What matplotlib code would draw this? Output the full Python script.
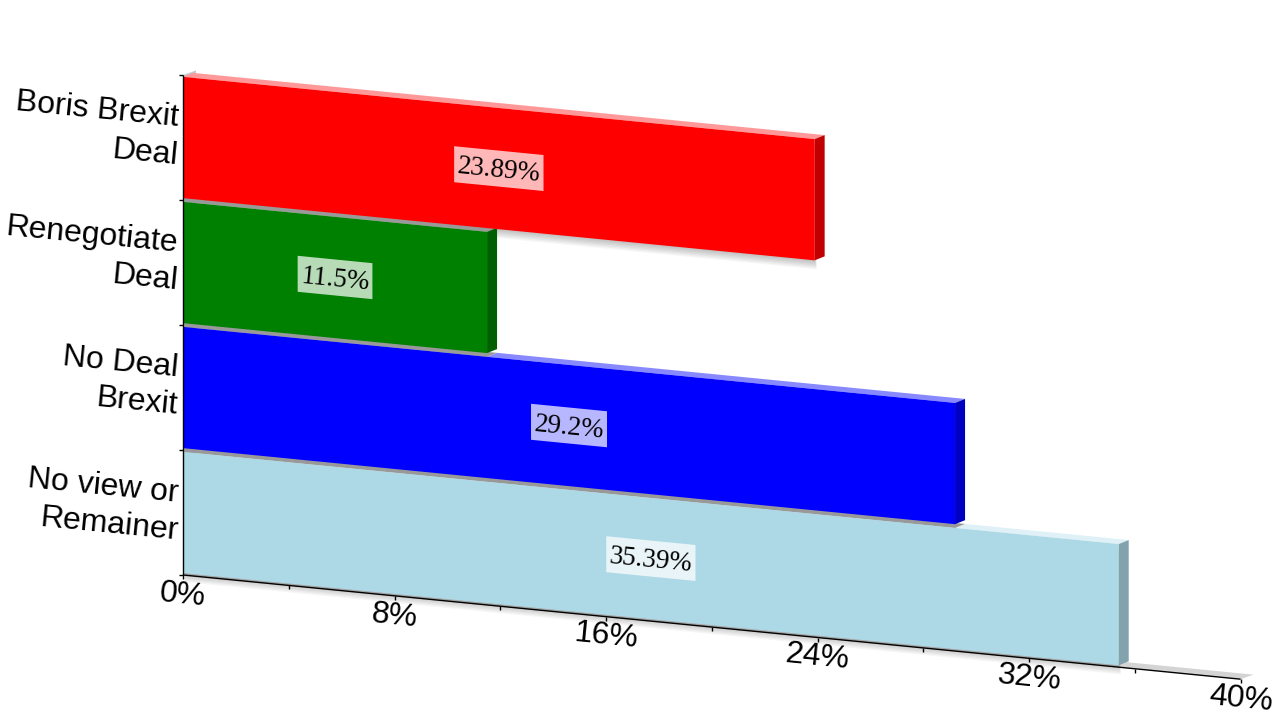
import matplotlib
matplotlib.use("Agg")
import matplotlib.pyplot as plt
import numpy as np
from matplotlib.transforms import Affine2D

categories = ["Boris Brexit\nDeal", "Renegotiate\nDeal", "No Deal\nBrexit", "No view or\nRemainer"]
values = [23.89, 11.5, 29.2, 35.39]
bar_colors = ["#ff0000", "#008000", "#0000ff", "#add8e6"]
side_colors = ["#c00000", "#006000", "#0000c0", "#82a2ad"]
top_colors = ["#ff9999", "#999999", "#8888ff", "#dff0f6"]
x_ticks = [0, 8, 16, 24, 32, 40]
x_minor = [4, 12, 20, 28, 36]

# chart sits on a skewed plane, pixels per unit
X0, Y0 = 183, 575
SX, SY = 26.44, 125
SLOPE = 0.0985
DX, DY = 10, -4
FLOOR_DX, FLOOR_DY = 13, -4.5
ANGLE = -np.degrees(np.arctan(SLOPE))
BAR_H = 0.97

fig = plt.figure(figsize=(12.8, 7.2), dpi=100)
ax = fig.add_axes([0, 0, 1, 1])
ax.set_xlim(0, 1280)
ax.set_ylim(720, 0)
ax.axis("off")

skew = Affine2D.from_values(SX, SX * SLOPE, 0, -SY, X0, Y0)


def proj(v, b, dx=0, dy=0):
    x, y = skew.transform((v, b))
    return x + dx, y + dy


def face(corners, color, **kw):
    pts = np.array([proj(*c) for c in corners])
    ax.fill(pts[:, 0], pts[:, 1], color=color, lw=0, **kw)


positions = [len(values) - i - 0.5 for i in range(len(values))]

# floor and wall behind the bars
face([(0, 0), (40, 0), (40, 0, FLOOR_DX, FLOOR_DY), (0, 0, FLOOR_DX, FLOOR_DY)], "#d4d4d4", zorder=1)
face([(0, 0), (0, 4), (0, 4, FLOOR_DX, FLOOR_DY), (0, 0, FLOOR_DX, FLOOR_DY)], "#c4c8cc", zorder=1)

# soft shadows
for pos, v in zip(positions, values):
    for i in range(1, 8):
        off = (i * 0.3, i * 1.3)
        face([(0, pos - BAR_H / 2, *off), (v, pos - BAR_H / 2, *off),
              (v, pos + BAR_H / 2, *off), (0, pos + BAR_H / 2, *off)], "black", alpha=0.035, zorder=2)

# bottom bar first so the strips tuck under the bar above
for i in reversed(range(len(values))):
    pos, v = positions[i], values[i]
    lo, hi = pos - BAR_H / 2, pos + BAR_H / 2
    z = 3 + (len(values) - i)
    ax.barh(pos, v, height=BAR_H, color=bar_colors[i], lw=0, transform=skew + ax.transData, zorder=z + 0.2)
    face([(v, lo), (v, hi), (v, hi, DX, DY), (v, lo, DX, DY)], side_colors[i], zorder=z + 0.1)
    upper = values[i - 1] if i > 0 else 0
    split = min(upper, v)
    face([(split, hi), (v, hi), (v, hi, DX, DY), (split, hi, DX, DY)], top_colors[i], zorder=z)
    if split > 0:
        face([(0, hi), (split, hi), (split, hi, DX, DY), (0, hi, DX, DY)], "#999999", zorder=z)

ax.set_xlim(0, 1280)
ax.set_ylim(720, 0)

# axes lines and ticks
line_kw = dict(color="black", lw=1, zorder=10, solid_capstyle="butt")
ax.plot(*zip(proj(0, 0), proj(0, 4)), **line_kw)
ax.plot(*zip(proj(0, 0), proj(40, 0)), **line_kw)
for b in range(5):
    x, y = proj(0, b)
    ax.plot([x - 4, x], [y, y], **line_kw)
for t in x_ticks + x_minor:
    x, y = proj(t, 0)
    ax.plot([x, x], [y, y + 4], **line_kw)

# tick labels
for t in x_ticks:
    x, y = proj(t, 0)
    ax.text(x, y + 20, f"{t}%", fontsize=23, family="Liberation Sans", ha="center", va="center",
            rotation=ANGLE, rotation_mode="anchor", zorder=11)

# category labels, one text per line so they stay right aligned
for pos, cat in zip(positions, categories):
    x, y = proj(0, pos)
    first, second = cat.split("\n")
    for line, off in ((first, -19), (second, 19)):
        ax.text(x - 5, y + off, line, fontsize=23, family="Liberation Sans", ha="right", va="center",
                rotation=ANGLE, rotation_mode="anchor", zorder=11)

# value labels with a pale sheared box behind them
renderer = fig.canvas.get_renderer()
for pos, v in zip(positions, values):
    cx, cy = proj(v / 2, pos)
    txt = ax.text(cx, cy + 2.5, f"{v}%", fontsize=19.5, family="Liberation Serif", ha="center", va="center",
                  rotation=0, rotation_mode="anchor", zorder=12)
    half = txt.get_window_extent(renderer).width / 2 + 3
    txt.set_rotation(ANGLE)
    bx = [cx - half, cx + half, cx + half, cx - half]
    by = [cy - half * SLOPE - 18, cy + half * SLOPE - 18, cy + half * SLOPE + 18, cy - half * SLOPE + 18]
    ax.fill(bx, by, color="white", alpha=0.72, lw=0, zorder=11)

fig.savefig("out.png", dpi=100, facecolor="white")
